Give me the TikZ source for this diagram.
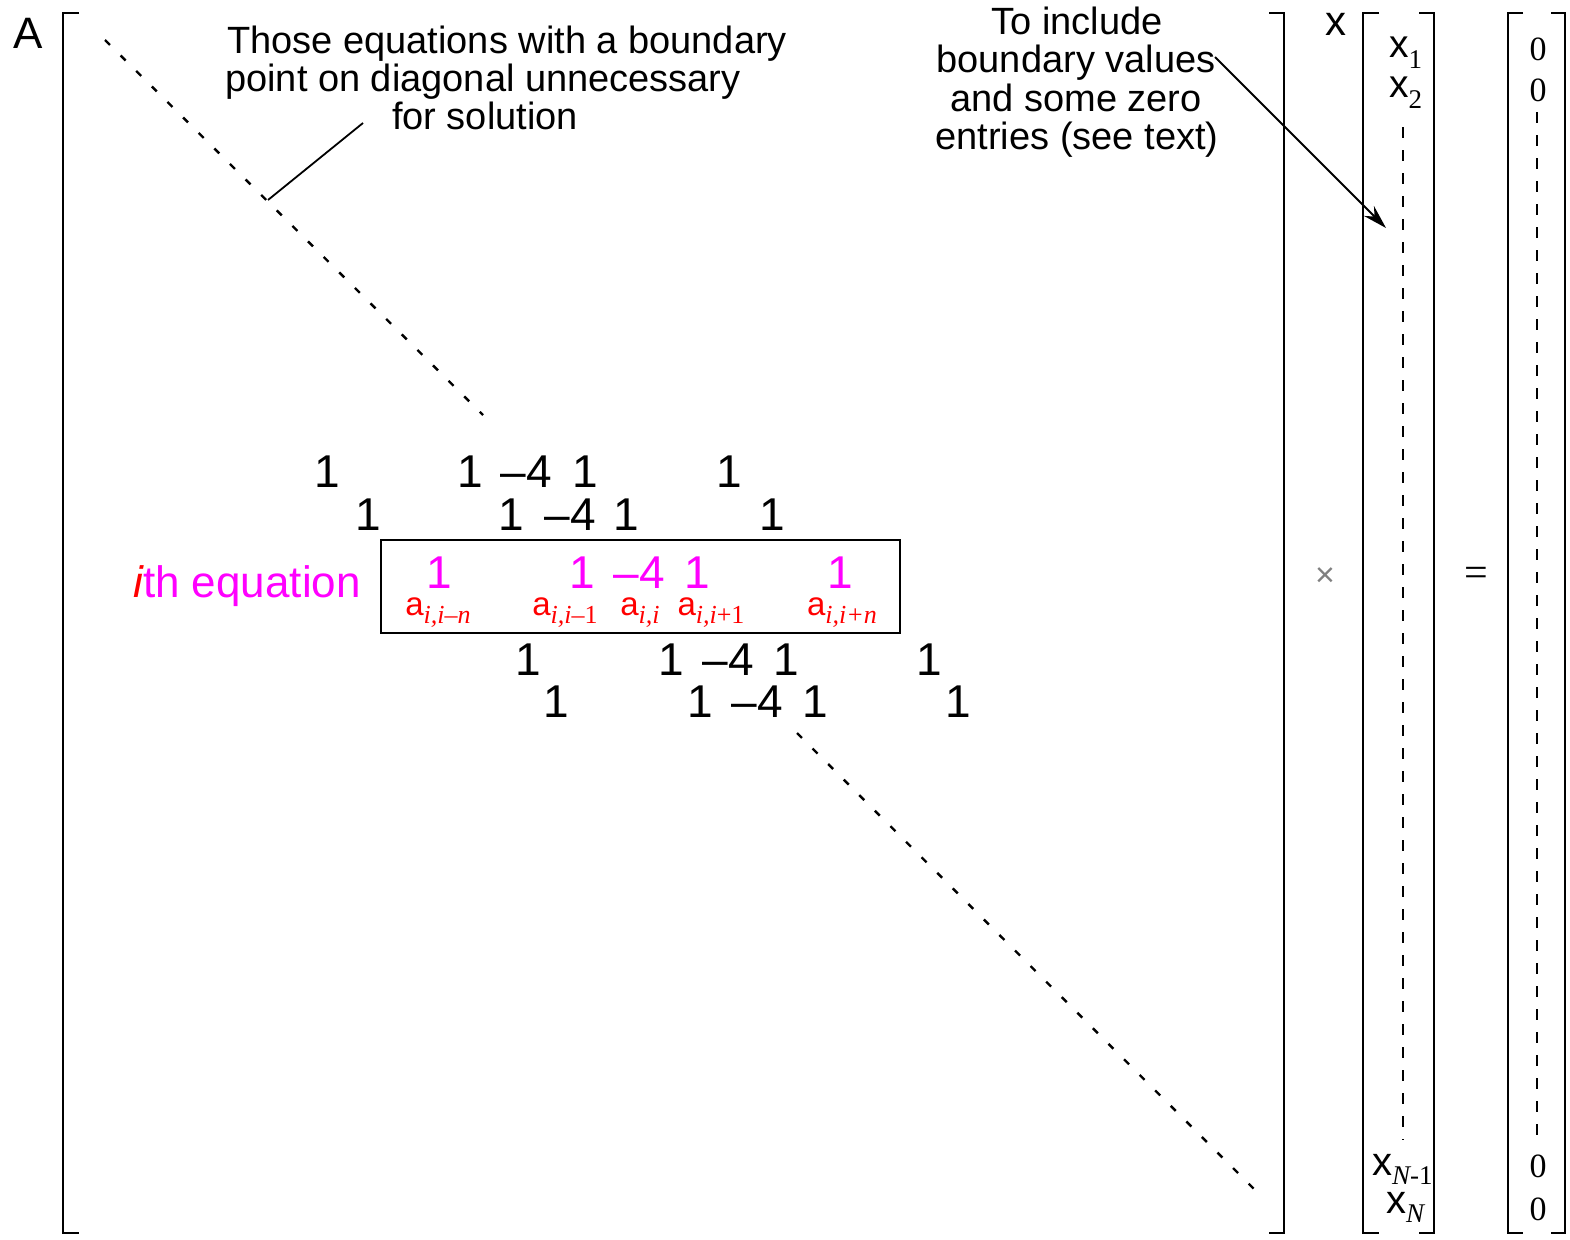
\documentclass[tikz,border=0pt]{standalone}
\usepackage{fontspec}
\setmainfont{Liberation Sans}
\newfontfamily\seriff{Liberation Serif}
\usetikzlibrary{arrows.meta}
\definecolor{mag}{RGB}{255,0,255}
\definecolor{rd}{RGB}{255,0,0}
\newcommand{\fs}[1]{\fontsize{#1}{#1}\selectfont}
\newcommand{\lab}[1]{{\fs{33}a}\raisebox{-8pt}{\fs{26}\seriff\itshape #1}}
\newcommand{\vx}[1]{{\fs{39}x}\raisebox{-11pt}{\fs{27}\seriff #1}}
\begin{document}
\begin{tikzpicture}[x=1pt,y=-1pt,
  brk/.style={line width=2pt},
  num/.style={inner sep=0pt,anchor=base,font=\fs{46}},
  mnum/.style={num,text=mag},
  sub/.style={inner sep=0pt,anchor=base,text=rd},
  txt/.style={inner sep=0pt,anchor=base,font=\fs{38}},
  dots/.style={line width=2.4pt,dash pattern=on 7pt off 15pt},
  vdash/.style={line width=1.6pt,dash pattern=on 11pt off 12pt},
  vec/.style={inner sep=0pt,anchor=base west},
  zero/.style={inner sep=0pt,anchor=base,font=\fs{34}\seriff}]
\useasboundingbox (0,0) rectangle (1570,1239);
% brackets
\draw[brk] (79,13) -- (63,13) -- (63,1233) -- (79,1233);
\draw[brk] (1269,13) -- (1284,13) -- (1284,1233) -- (1269,1233);
\draw[brk] (1379,13) -- (1363,13) -- (1363,1233) -- (1379,1233);
\draw[brk] (1419,13) -- (1434,13) -- (1434,1233) -- (1419,1233);
\draw[brk] (1523,13) -- (1508,13) -- (1508,1233) -- (1523,1233);
\draw[brk] (1551,13) -- (1565,13) -- (1565,1233) -- (1551,1233);
% labels
\node[inner sep=0pt,font=\fs{44}] (A) at (28,33) {A};
\node[inner sep=0pt,font=\fs{42}] (X) at (1336,24) {x};
\node[inner sep=0pt,text=gray,font=\fs{34}] (times) at (1325,577) {×};
\node[inner sep=0pt,font=\fs{42}\seriff] (eq) at (1476,577) {=};
% x vector
\node[vec] (x1) at (1389,57) {\vx{1}};
\node[vec] (x2) at (1389,97) {\vx{2}};
\node[vec] (xn1) at (1372,1175) {{\fs{40}x}\raisebox{-9pt}{\fs{27}\seriff\itshape N\upshape-1}};
\node[vec] (xn) at (1386,1213) {{\fs{40}x}\raisebox{-9pt}{\fs{27}\seriff\itshape N}};
\coordinate (xa) at (1403,127);
\coordinate (xb) at (1403,1140);
\draw[vdash] (xa) -- (xb);
% zero vector
\node[zero] (z1) at (1538,60) {0};
\node[zero] (z2) at (1538,101) {0};
\node[zero] (z3) at (1538,1177) {0};
\node[zero] (z4) at (1538,1220) {0};
\coordinate (za) at (1537,112);
\coordinate (zb) at (1537,1140);
\draw[vdash] (za) -- (zb);
% diagonals
\coordinate (d1) at (105,40);
\coordinate (d2) at (483,415);
\coordinate (d3) at (797,733);
\coordinate (d4) at (1258,1193);
\draw[dots] (d1) -- (d2);
\draw[dots] (d3) -- (d4);
% annotation left
\node[txt,anchor=base west] (t1) at (227,53) {Those equations with a boundary};
\node[txt,anchor=base west] (t2) at (225,91) {point on diagonal unnecessary};
\node[txt] (t3) at (485,129) {for solution};
\coordinate (la) at (363,123);
\coordinate (lb) at (268,200);
\draw[line width=1.8pt] (la) -- (lb);
% annotation right
\node[txt] (r1) at (1077,35) {To include};
\node[txt] (r2) at (1076,73) {boundary values};
\node[txt] (r3) at (1076,111) {and some zero};
\node[txt] (r4) at (1077,149) {entries (see text)};
\coordinate (aa) at (1215,57);
\coordinate (ab) at (1386,228);
\draw[line width=2pt,-{Stealth[length=24pt,width=14pt]}] (aa) -- (ab);
% rows
\node[num] (a1) at (327,487) {1};
\node[num] (a2) at (470,487) {1};
\node[num] (a3) at (526,487) {–4};
\node[num] (a4) at (585,487) {1};
\node[num] (a5) at (729,487) {1};
\node[num] (b1) at (368,530) {1};
\node[num] (b2) at (511,530) {1};
\node[num] (b3) at (570,530) {–4};
\node[num] (b4) at (626,530) {1};
\node[num] (b5) at (772,530) {1};
\node[draw,line width=2pt,inner sep=0pt,minimum width=519pt,minimum height=93pt] (box) at (640.5,586.5) {};
\node[mnum] (c1) at (439,588) {1};
\node[mnum] (c2) at (582,588) {1};
\node[mnum] (c3) at (639,588) {–4};
\node[mnum] (c4) at (697,588) {1};
\node[mnum] (c5) at (840,588) {1};
\node[sub] (s1) at (438,615) {\lab{i,i–n}};
\node[sub] (s2) at (565,615) {\lab{i,i–}\raisebox{-8pt}{\fs{26}\seriff 1}};
\node[sub] (s3) at (640,615) {\lab{i,i}};
\node[sub] (s4) at (711,615) {\lab{i,i}\raisebox{-8pt}{\fs{26}\seriff +1}};
\node[sub] (s5) at (842,615) {\lab{i,i+n}};
\node[inner sep=0pt,anchor=base east,font=\fs{44},text=mag] (ith) at (361,597) {\textcolor{rd}{\itshape i}th equation};
\node[num] (d1n) at (528,675) {1};
\node[num] (d2n) at (671,675) {1};
\node[num] (d3n) at (728,675) {–4};
\node[num] (d4n) at (786,675) {1};
\node[num] (d5n) at (929,675) {1};
\node[num] (e1) at (556,717) {1};
\node[num] (e2) at (700,717) {1};
\node[num] (e3) at (757,717) {–4};
\node[num] (e4) at (815,717) {1};
\node[num] (e5) at (958,717) {1};
\end{tikzpicture}
\end{document}
